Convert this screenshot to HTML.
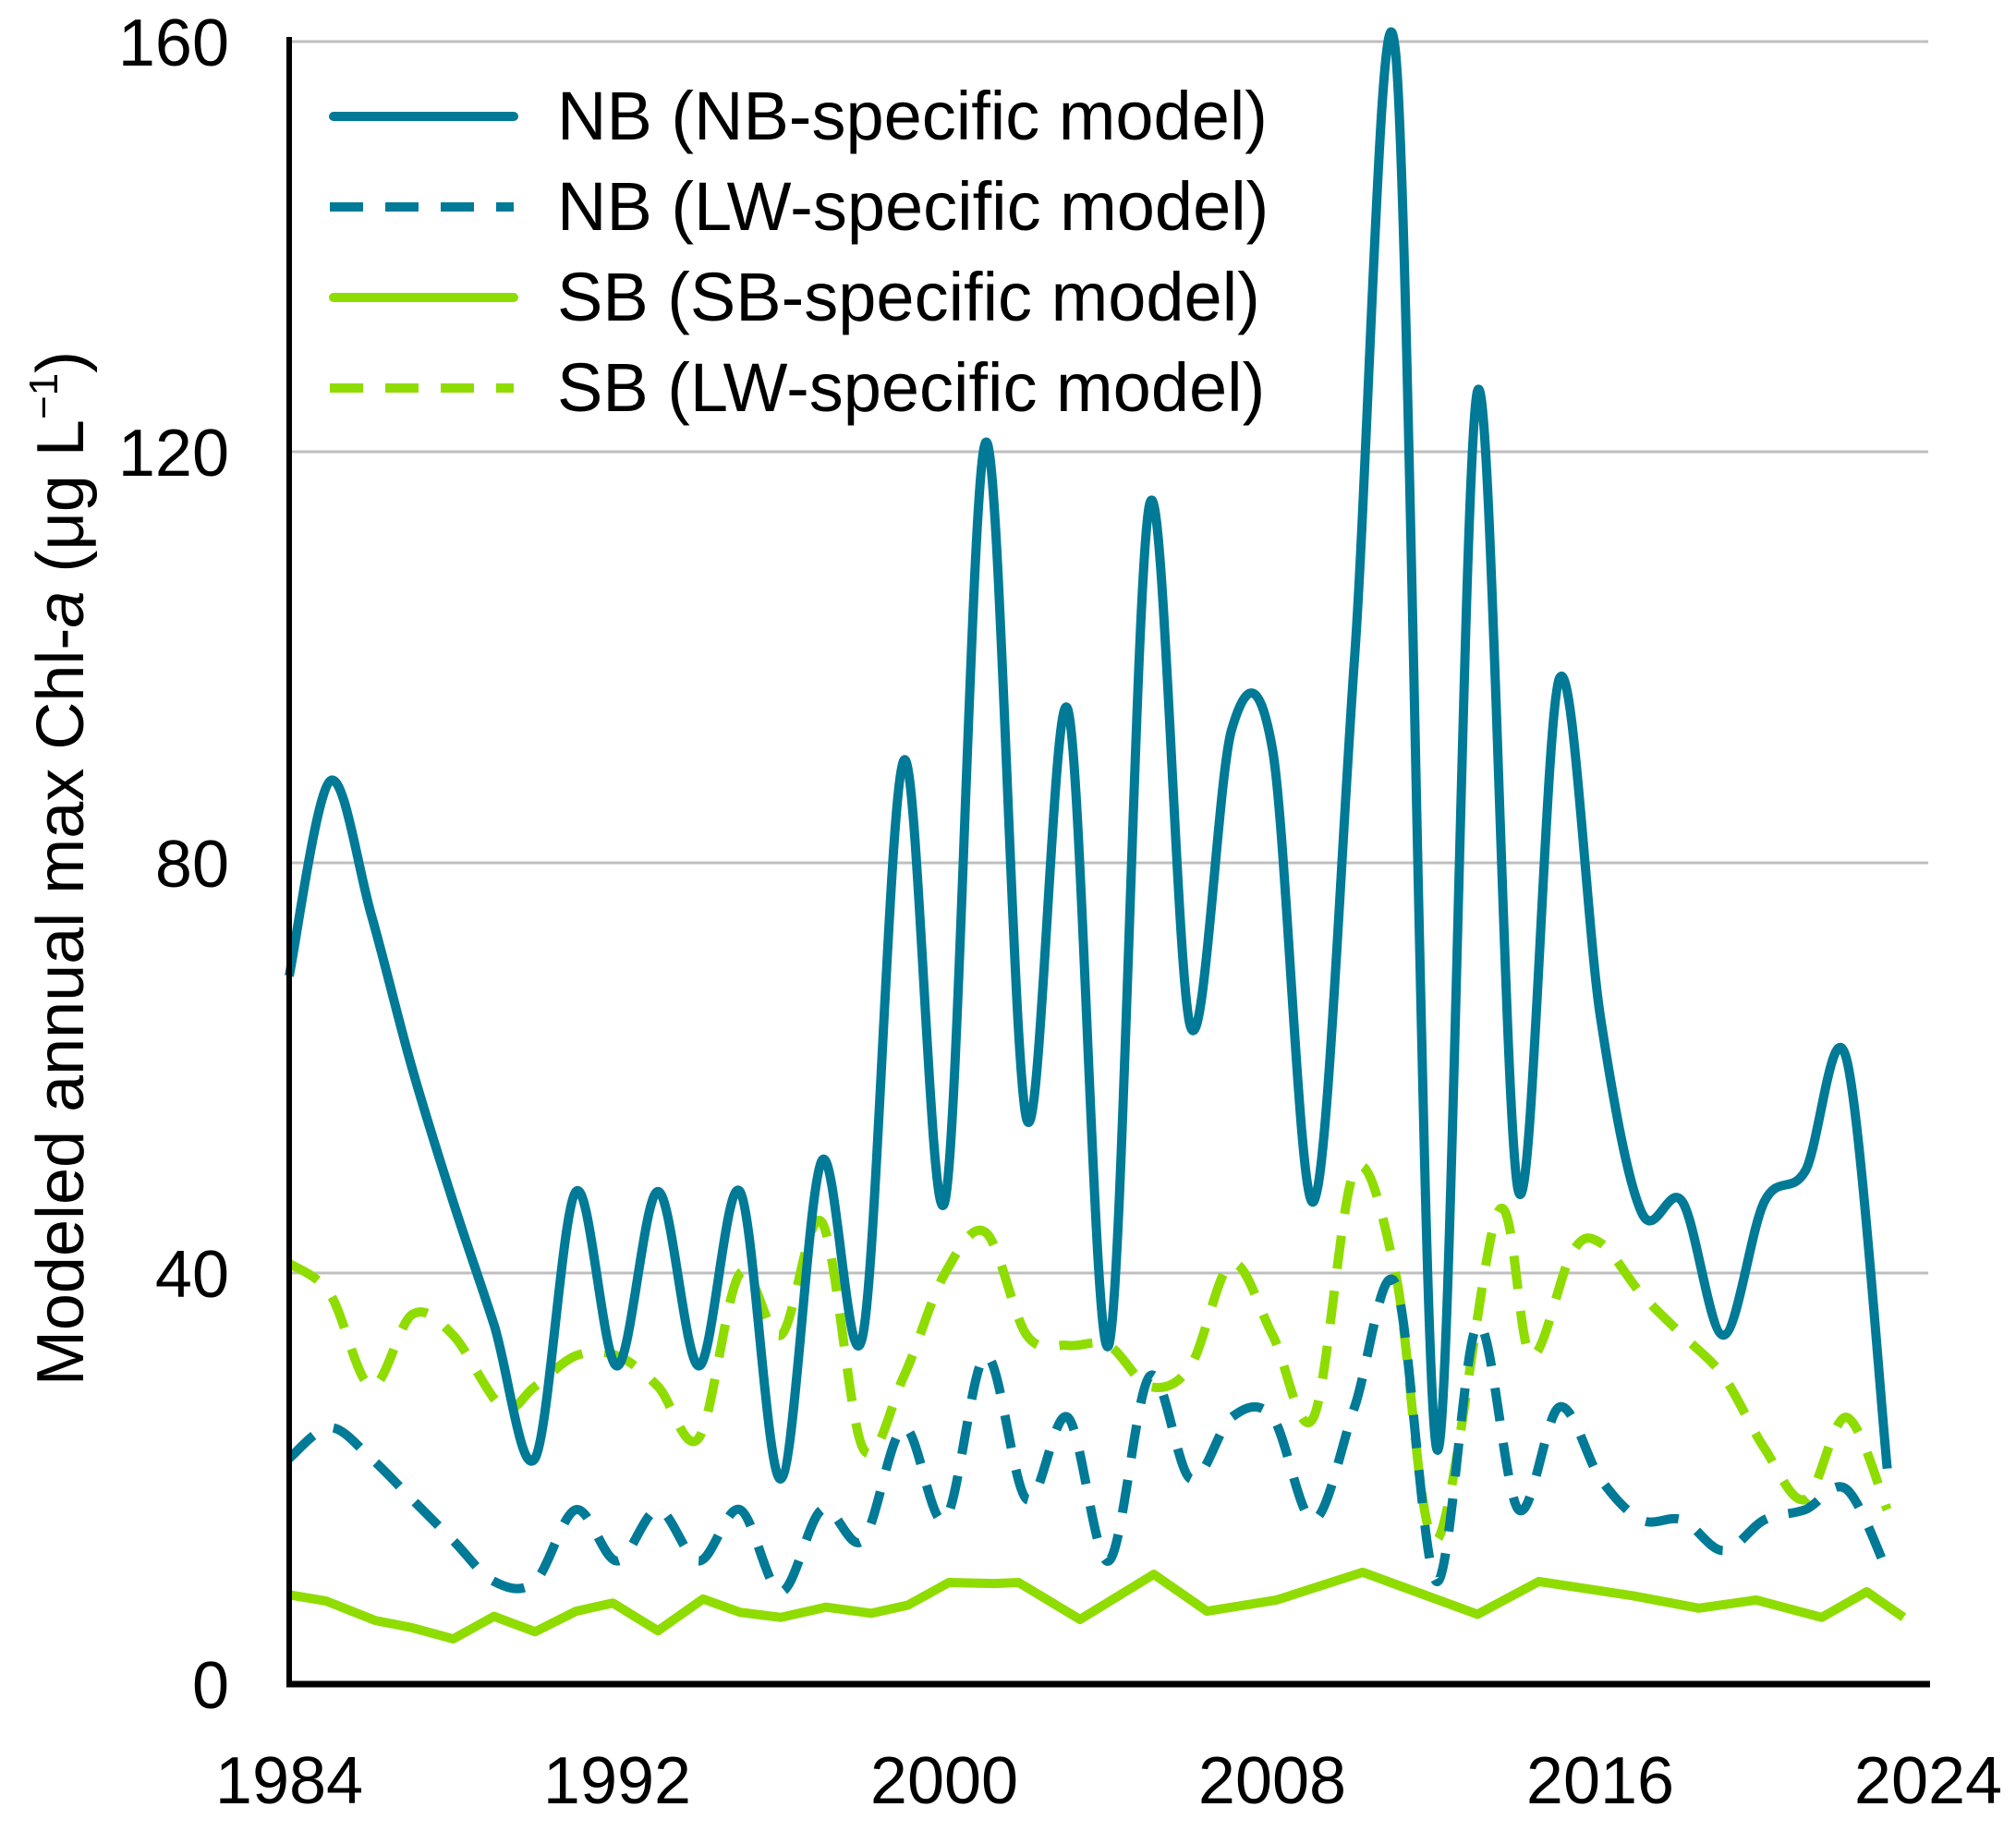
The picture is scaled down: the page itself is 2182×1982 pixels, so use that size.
<!DOCTYPE html>
<html><head><meta charset="utf-8"><style>
html,body{margin:0;padding:0;background:#fff;}
svg{display:block}
text{font-family:"Liberation Sans",Arial,sans-serif;fill:#000}
</style></head><body>
<svg id="s" width="2182" height="1982" viewBox="0 0 2182 1982" xmlns="http://www.w3.org/2000/svg">
<g stroke="#bfbfbf" stroke-width="3">
<line x1="313" y1="45" x2="2087" y2="45"/>
<line x1="313" y1="489" x2="2087" y2="489"/>
<line x1="313" y1="934" x2="2087" y2="934"/>
<line x1="313" y1="1378" x2="2087" y2="1378"/>
</g>
<g font-size="72" text-anchor="end">
<text x="248" y="71">160</text>
<text x="248" y="515">120</text>
<text x="248" y="960">80</text>
<text x="248" y="1404">40</text>
<text x="248" y="1849">0</text>
</g>
<g font-size="72" text-anchor="middle">
<text x="313" y="1952">1984</text>
<text x="668" y="1952">1992</text>
<text x="1022" y="1952">2000</text>
<text x="1377" y="1952">2008</text>
<text x="1732" y="1952">2016</text>
<text x="2087" y="1952">2024</text>
</g>
<text transform="translate(90,940) rotate(-90)" font-size="72" text-anchor="middle">Modeled annual max Chl-<tspan font-style="italic">a</tspan> (μg L<tspan dy="-28" font-size="44">−1</tspan><tspan dy="28">)</tspan></text>
<g id="series" fill="none" stroke-linejoin="round"></g>
<line x1="313" y1="40" x2="313" y2="1826" stroke="#000" stroke-width="6"/>
<line x1="310" y1="1823" x2="2089" y2="1823" stroke="#000" stroke-width="7"/>
<g stroke-width="10">
<line x1="361" y1="126" x2="556" y2="126" stroke="#007a96" stroke-linecap="round"/>
<line x1="357" y1="224" x2="556" y2="224" stroke="#007a96" stroke-dasharray="36 24"/>
<line x1="361" y1="322" x2="556" y2="322" stroke="#8fdc00" stroke-linecap="round"/>
<line x1="357" y1="420" x2="556" y2="420" stroke="#8fdc00" stroke-dasharray="36 24"/>
</g>
<g font-size="74">
<text x="603" y="151">NB (NB-specific model)</text>
<text x="603" y="249">NB (LW-specific model)</text>
<text x="603" y="347">SB (SB-specific model)</text>
<text x="603" y="445">SB (LW-specific model)</text>
</g>
</svg>
<script>
var X=function(y){return 313+(y-1984)*44.35}, Y=function(v){return 1823-v*11.11};
function yr(a){return a.map(function(v,i){return [1984+i,v]})}
var nb=yr([69,88,75,60,47,35,22,48,31,48,31,48,20,51,34,90,47,121,55,95,33,115,64,93,91,47,100,159,23,126,48,98,65,46,47,34,47,50,61,21]);
var nblw=[[1984,22],[1985,25],[1986,22],[1987,18],[1988,14],[1989,10],[1990,10],[1991,17],[1992,12],[1993,17],[1994,12],[1995,17],[1996,9],[1997,17],[1998,14],[1999,25],[2000,16],[2001,32],[2002,18],[2003,26],[2004,12],[2005,30],[2006,20],[2007,26],[2008,26],[2009,16],[2010,27],[2011,39],[2012,10],[2013,35],[2014,17],[2015,27],[2016,20],[2017,16],[2018,16],[2019,13],[2020,16],[2021,17],[2022,19],[2023,11]];
var sblw=[[1984,41],[1985,38],[1986,29],[1987,36],[1988,34],[1989.2,27],[1990,29],[1991,32],[1992,32],[1993,29],[1994,24],[1995,40],[1996,34],[1997,45],[1998,23],[1999,30],[2000,40],[2001,44],[2002,34],[2003,33],[2004,33],[2005,29],[2006,31],[2007,41],[2008,34],[2009,26],[2010,50],[2011,40],[2012,14],[2013.5,46],[2014.3,32],[2015.3,42],[2016,43],[2017,38],[2018,34],[2019,30],[2020,23],[2021,18],[2022,26],[2023,17]];
var sb=[[1984,8.7],[1984.9,8.1],[1986.1,6.2],[1987,5.5],[1988,4.4],[1989,6.6],[1990,5.1],[1991,7.1],[1991.9,7.9],[1993,5.2],[1994.1,8.3],[1995,7],[1996,6.5],[1997.1,7.5],[1998.2,6.9],[1999.1,7.7],[2000.1,9.9],[2001.2,9.8],[2001.8,9.9],[2003.3,6.3],[2005.1,10.7],[2006.4,7.1],[2008.1,8.2],[2010.2,10.9],[2013,6.8],[2014.5,10],[2016.8,8.6],[2018.4,7.4],[2019.8,8.2],[2021.4,6.5],[2022.5,9],[2023.4,6.5]];
function smooth(d){var p=d.map(function(a){return [X(a[0]),Y(a[1])]});var s="M"+p[0];for(var i=0;i<p.length-1;i++){var p0=p[i-1]||p[i],p1=p[i],p2=p[i+1],p3=p[i+2]||p2;var c1=[p1[0]+(p2[0]-p0[0])/6,p1[1]+(p2[1]-p0[1])/6],c2=[p2[0]-(p3[0]-p1[0])/6,p2[1]-(p3[1]-p1[1])/6];s+=" C"+c1+" "+c2+" "+p2;}return s}
function lin(d){return "M"+d.map(function(a){return [X(a[0]),Y(a[1])]}).join(" L")}
var g=document.getElementById("series"),ns="http://www.w3.org/2000/svg";
function add(d,c,dash){var e=document.createElementNS(ns,"path");e.setAttribute("d",d);e.setAttribute("stroke",c);e.setAttribute("stroke-width","10");if(dash)e.setAttribute("stroke-dasharray","36 24");g.appendChild(e)}
add(lin(sb),"#8fdc00");
add(smooth(sblw),"#8fdc00",1);
add(smooth(nblw),"#007a96",1);
add(smooth(nb),"#007a96");
</script>
</body></html>
